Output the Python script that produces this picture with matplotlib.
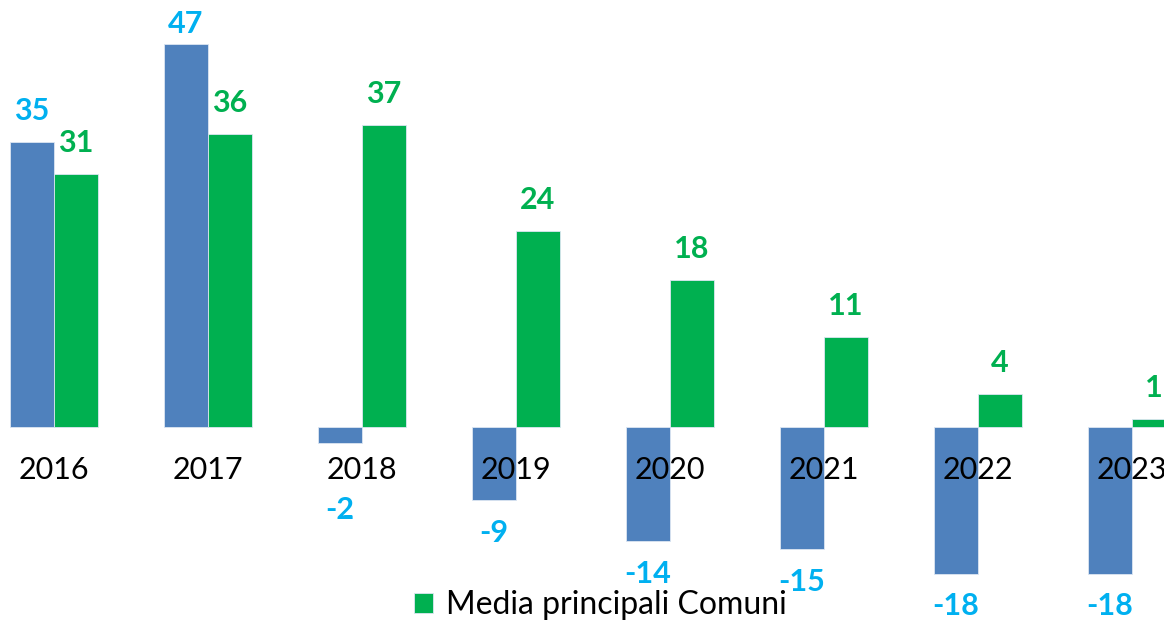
import matplotlib
matplotlib.use("Agg")
import matplotlib.pyplot as plt
import numpy as np

years = ["2016", "2017", "2018", "2019", "2020", "2021", "2022", "2023"]
blue_vals = [35, 47, -2, -9, -14, -15, -18, -18]
green_vals = [31, 36, 37, 24, 18, 11, 4, 1]
green_name = "Media principali Comuni"

BLUE = "#4F81BD"
GREEN = "#00B050"
LBLUE = "#00B0F0"
FONT = "Lato"

fig = plt.figure(figsize=(11.64, 6.21), dpi=100)
ax = fig.add_axes([0, 0, 1, 1])
ax.set_axis_off()

px_unit = 8.15
ylim_top = 427 / px_unit
ylim_bot = -(621 - 427) / px_unit
ax.set_ylim(ylim_bot, ylim_top)
ax.set_xlim(-54 / 154, 7 + 32 / 154)

x = np.arange(len(years))
w = 44 / 154
bb = ax.bar(x - w / 2, blue_vals, width=w, color=BLUE, edgecolor="#dce6f2", linewidth=0.6)
gb = ax.bar(x + w / 2, green_vals, width=w, color=GREEN, edgecolor="#dce6f2", linewidth=0.6,
            label=green_name)

fs = 22
for i, v in enumerate(blue_vals):
    if v >= 0:
        y = min(v + 3.8, ylim_top - 24 / px_unit)
    else:
        y = min(v - 4.0, -10.2)
    ax.text(x[i] - w / 2, y, f"{v}", ha="center", va="center", color=LBLUE,
            fontsize=fs, fontweight="bold", family=FONT)
for i, v in enumerate(green_vals):
    y = v + 3.8
    ax.text(x[i] + w / 2, y, f"{v}", ha="center", va="center", color=GREEN,
            fontsize=fs, fontweight="bold", family=FONT)

for i, yr in enumerate(years):
    ax.text(x[i], -43 / px_unit, yr, ha="center", va="center", color="black",
            fontsize=fs, family=FONT)

leg = fig.legend(handles=[gb], labels=[green_name], loc="center left",
                 bbox_to_anchor=(414 / 1164, 1 - 605 / 621), frameon=False,
                 borderpad=0, borderaxespad=0, handlelength=0.6, handleheight=0.6,
                 handletextpad=0.4, prop={"family": FONT, "size": 23})

fig.savefig("out.png", dpi=100)
